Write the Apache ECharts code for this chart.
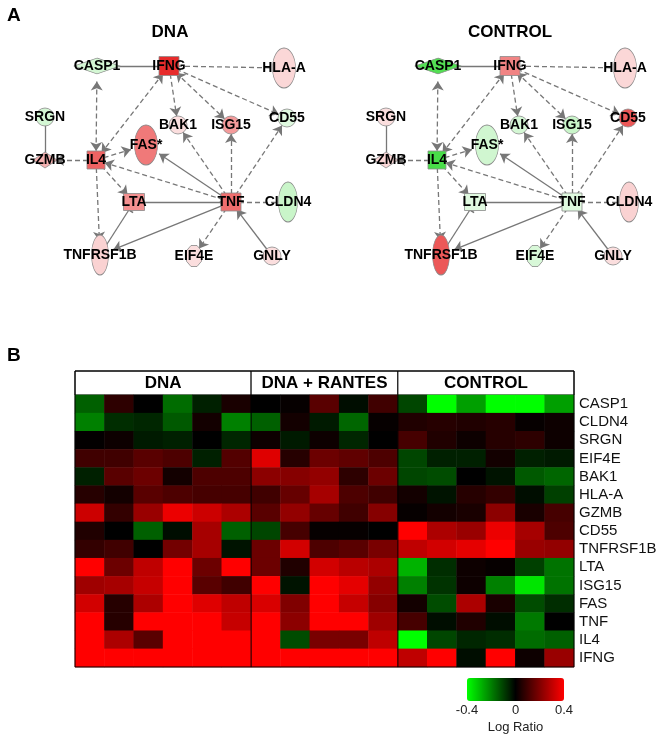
<!DOCTYPE html>
<html>
<head>
<meta charset="utf-8">
<script src="https://cdn.jsdelivr.net/npm/echarts@6/dist/echarts.min.js"></script>
<style>
html, body { margin: 0; padding: 0; background: #fff; }
#main { width: 661px; height: 735px; }
</style>
</head>
<body>
<div id="main"></div>
<script>
// ---- panel B data: log ratio per gene (rows) and sample (columns)
var genes = ['CASP1', 'CLDN4', 'SRGN', 'EIF4E', 'BAK1', 'HLA-A', 'GZMB', 'CD55',
    'TNFRSF1B', 'LTA', 'ISG15', 'FAS', 'TNF', 'IL4', 'IFNG'];
var groups = ['DNA', 'DNA + RANTES', 'CONTROL'];

var dnaVals = [
    [-0.15, 0.07, 0.0, -0.17, -0.05, 0.04],
    [-0.2, -0.07, -0.06, -0.14, 0.03, -0.2],
    [0.005, 0.02, -0.04, -0.05, 0.0, -0.06],
    [0.1, 0.1, 0.14, 0.12, -0.05, 0.13],
    [-0.05, 0.14, 0.17, 0.03, 0.12, 0.12],
    [0.06, 0.03, 0.14, 0.12, 0.11, 0.11],
    [0.32, 0.08, 0.24, 0.37, 0.32, 0.27],
    [0.05, 0.0, -0.15, -0.02, 0.26, -0.15],
    [0.08, 0.1, 0.0, 0.18, 0.26, -0.03],
    [0.4, 0.17, 0.3, 0.4, 0.17, 0.4],
    [0.25, 0.26, 0.31, 0.4, 0.14, 0.1],
    [0.33, 0.06, 0.27, 0.4, 0.35, 0.3],
    [0.4, 0.06, 0.4, 0.4, 0.4, 0.31],
    [0.4, 0.27, 0.14, 0.4, 0.4, 0.4],
    [0.4, 0.4, 0.4, 0.4, 0.4, 0.4]
];
var rantesVals = [
    [0.0, 0.01, 0.14, -0.02, 0.1],
    [-0.15, 0.03, -0.04, -0.16, 0.01],
    [0.02, -0.04, 0.02, -0.06, 0.0],
    [0.35, 0.06, 0.17, 0.15, 0.12],
    [0.22, 0.21, 0.23, 0.07, 0.17],
    [0.1, 0.16, 0.26, 0.12, 0.1],
    [0.14, 0.23, 0.16, 0.1, 0.21],
    [-0.11, 0.11, 0.01, 0.01, 0.0],
    [0.17, 0.33, 0.12, 0.14, 0.19],
    [0.17, 0.05, 0.33, 0.29, 0.27],
    [0.4, -0.03, 0.4, 0.36, 0.23],
    [0.34, 0.2, 0.4, 0.31, 0.21],
    [0.4, 0.22, 0.4, 0.4, 0.25],
    [0.4, -0.12, 0.19, 0.19, 0.3],
    [0.4, 0.4, 0.4, 0.4, 0.4]
];
var ctrlVals = [
    [-0.11, -0.4, -0.25, -0.4, -0.4, -0.25],
    [0.05, 0.06, 0.05, 0.06, 0.01, 0.02],
    [0.11, 0.05, 0.02, 0.06, 0.07, 0.02],
    [-0.11, -0.05, -0.05, 0.03, -0.05, -0.04],
    [-0.11, -0.12, 0.0, -0.03, -0.14, -0.16],
    [0.03, -0.03, 0.06, 0.08, -0.02, -0.1],
    [0.01, 0.03, 0.04, 0.22, 0.04, 0.11],
    [0.4, 0.27, 0.24, 0.37, 0.26, 0.12],
    [0.3, 0.33, 0.36, 0.4, 0.24, 0.23],
    [-0.28, -0.07, 0.02, 0.01, -0.1, -0.18],
    [-0.2, -0.08, 0.02, -0.2, -0.36, -0.18],
    [0.03, -0.12, 0.27, 0.04, -0.12, -0.07],
    [0.11, -0.02, 0.05, -0.02, -0.19, 0.0],
    [-0.4, -0.11, -0.06, -0.07, -0.17, -0.15],
    [0.3, 0.4, -0.02, 0.4, 0.02, 0.24]
];
var legendTicks = [-0.4, 0, 0.4];

// ---- panel A data: network nodes, expression level (-1 green .. 1 red), links
var netNodes = ['CASP1', 'IFNG', 'HLA-A', 'SRGN', 'BAK1', 'ISG15', 'CD55', 'FAS*',
    'GZMB', 'IL4', 'LTA', 'TNF', 'CLDN4', 'TNFRSF1B', 'EIF4E', 'GNLY'];
var dnaLevel = [-0.2, 0.95, 0.18, -0.2, 0.15, 0.45, -0.15, 0.6,
    0.35, 0.7, 0.5, 0.65, -0.25, 0.2, 0.15, 0.15];
var ctrlLevel = [-0.8, 0.55, 0.18, 0.15, -0.2, -0.25, 0.75, -0.22,
    0.18, -0.85, -0.15, -0.15, 0.2, 0.75, -0.18, 0.15];
// [from, to, kind, fromSymbol, toSymbol]
var netLinks = [
    ['CASP1', 'IFNG', 'solid', 'none', 'none'],
    ['IFNG', 'HLA-A', 'dashed', 'none', 'none'],
    ['IFNG', 'BAK1', 'dashed', 'none', 'arrow'],
    ['IFNG', 'ISG15', 'dashed', 'arrow', 'arrow'],
    ['IFNG', 'CD55', 'dashed', 'none', 'arrow'],
    ['IFNG', 'IL4', 'dashed', 'arrow', 'arrow'],
    ['CASP1', 'IL4', 'dashed', 'arrow', 'arrow'],
    ['SRGN', 'GZMB', 'solid', 'none', 'none'],
    ['IL4', 'GZMB', 'dashed', 'none', 'arrow'],
    ['IL4', 'FAS*', 'dashed', 'none', 'arrow'],
    ['IL4', 'LTA', 'dashed', 'none', 'arrow'],
    ['IL4', 'TNFRSF1B', 'dashed', 'none', 'arrow'],
    ['TNF', 'IL4', 'dashed', 'none', 'arrow'],
    ['TNF', 'FAS*', 'solid', 'none', 'arrow'],
    ['TNF', 'BAK1', 'dashed', 'none', 'arrow'],
    ['TNF', 'ISG15', 'dashed', 'none', 'arrow'],
    ['TNF', 'CD55', 'dashed', 'none', 'arrow'],
    ['TNF', 'LTA', 'solid', 'none', 'none'],
    ['TNF', 'CLDN4', 'dashed', 'none', 'none'],
    ['TNF', 'EIF4E', 'dashed', 'none', 'arrow'],
    ['GNLY', 'TNF', 'solid', 'none', 'arrow'],
    ['TNF', 'TNFRSF1B', 'solid', 'tee', 'arrow'],
    ['TNFRSF1B', 'LTA', 'solid', 'none', 'tee']
];

// network layout (panel units) and node shapes
var netLayout = {
    'CASP1': [97, 66], 'IFNG': [169, 66], 'HLA-A': [284, 68], 'SRGN': [45, 117],
    'BAK1': [178, 125], 'ISG15': [231, 125], 'CD55': [287, 118], 'FAS*': [146, 145],
    'GZMB': [45, 160], 'IL4': [96, 160], 'LTA': [134, 202], 'TNF': [231, 202],
    'CLDN4': [288, 202], 'TNFRSF1B': [100, 255], 'EIF4E': [194, 256], 'GNLY': [272, 256]
};
var ELLIPSE = 'path://M0,50A50,50,0,1,1,100,50A50,50,0,1,1,0,50Z';
var OCTAGON = 'path://M30,0L70,0L100,25L100,75L70,100L30,100L0,75L0,25Z';
var TEE = 'path://M0,0L0,0M0,10L0,10M0,4.2L10,4.2L10,5.8L0,5.8Z';
var netShape = {
    'CASP1': ['diamond', [46, 16]], 'IFNG': ['rect', [20, 19]], 'HLA-A': [ELLIPSE, [23, 40]],
    'SRGN': ['circle', 18], 'BAK1': ['circle', 18], 'ISG15': ['circle', 18], 'CD55': ['circle', 18],
    'FAS*': [ELLIPSE, [23, 40]], 'GZMB': ['diamond', [24, 16]], 'IL4': ['rect', [18, 18]],
    'LTA': ['rect', [21, 17]], 'TNF': ['rect', [20, 18]], 'CLDN4': [ELLIPSE, [19, 40]],
    'TNFRSF1B': [ELLIPSE, [17, 40]], 'EIF4E': [OCTAGON, [15, 21]], 'GNLY': ['circle', 18]
};

function levelColor(v) {
    var base = v >= 0 ? [230, 32, 32] : [40, 215, 40];
    var a = Math.min(1, Math.abs(v));
    var c = base.map(function (b) { return Math.round(255 + (b - 255) * a); });
    return 'rgb(' + c.join(',') + ')';
}

function netSeries(levels, idx) {
    var nodes = netNodes.map(function (name, i) {
        var sh = netShape[name];
        return {
            name: name,
            value: netLayout[name],
            symbol: sh[0],
            symbolSize: sh[1],
            itemStyle: { color: levelColor(levels[i]), borderColor: '#8a8a8a', borderWidth: 0.8 }
        };
    });
    var links = netLinks.map(function (l) {
        return {
            source: l[0],
            target: l[1],
            symbol: [l[3] === 'tee' ? TEE : l[3], l[4] === 'tee' ? TEE : l[4]],
            symbolSize: [l[3] === 'tee' ? 10 : 9, l[4] === 'tee' ? 10 : 9],
            lineStyle: { type: l[2] === 'dashed' ? [5, 3] : 'solid' }
        };
    });
    return {
        type: 'graph',
        layout: 'none',
        coordinateSystem: 'cartesian2d',
        xAxisIndex: idx,
        yAxisIndex: idx,
        data: nodes,
        links: links,
        label: {
            show: true,
            position: 'inside',
            color: '#000',
            fontWeight: 'bold',
            fontSize: 14,
            fontFamily: 'Arial, Liberation Sans, sans-serif'
        },
        lineStyle: { color: '#777', width: 1.3, opacity: 1 },
        emphasis: { disabled: true },
        silent: true
    };
}

// heatmap cells
var heatData = [];
var blocks = [dnaVals, rantesVals, ctrlVals];
var col0 = 0;
var groupStart = [];
blocks.forEach(function (block) {
    groupStart.push(col0);
    block.forEach(function (row, r) {
        row.forEach(function (v, c) { heatData.push([col0 + c, r, v]); });
    });
    col0 += block[0].length;
});
var nCols = col0;
var cols = [];
for (var i = 0; i < nCols; i++) cols.push(i);

// heatmap geometry
var hmLeft = 75, hmTop = 395, hmWidth = 499, hmHeight = 272, headH = 24;
var colW = hmWidth / nCols;

var graphics = [];
var FONT = 'Arial, Liberation Sans, sans-serif';
groups.forEach(function (g, k) {
    var x0 = hmLeft + groupStart[k] * colW;
    var x1 = hmLeft + (k + 1 < groups.length ? groupStart[k + 1] : nCols) * colW;
    graphics.push({
        type: 'rect', shape: { x: x0, y: hmTop - headH, width: x1 - x0, height: headH },
        style: { fill: '#fff', stroke: '#000', lineWidth: 1 }
    });
    graphics.push({
        type: 'text', x: (x0 + x1) / 2, y: hmTop - headH / 2,
        style: { text: g, fill: '#000', font: 'bold 17px ' + FONT, align: 'center', verticalAlign: 'middle' }
    });
    if (k > 0) {
        graphics.push({
            type: 'line', z: 10, shape: { x1: x0, y1: hmTop, x2: x0, y2: hmTop + hmHeight },
            style: { stroke: '#000', lineWidth: 1 }
        });
    }
});
graphics.push({
    type: 'rect', z: 10, shape: { x: hmLeft, y: hmTop - headH, width: hmWidth, height: hmHeight + headH },
    style: { fill: 'none', stroke: '#000', lineWidth: 1 }
});
graphics.push({ type: 'text', x: 7, y: 6, style: { text: 'A', fill: '#000', font: 'bold 19px ' + FONT } });
graphics.push({ type: 'text', x: 7, y: 346, style: { text: 'B', fill: '#000', font: 'bold 19px ' + FONT } });
graphics.push({ type: 'text', x: 170, y: 32, style: { text: 'DNA', fill: '#000', font: 'bold 17px ' + FONT, align: 'center', verticalAlign: 'middle' } });
graphics.push({ type: 'text', x: 510, y: 32, style: { text: 'CONTROL', fill: '#000', font: 'bold 17px ' + FONT, align: 'center', verticalAlign: 'middle' } });

var hiddenValueAxis = function (gi, min, max, inverse) {
    return { type: 'value', gridIndex: gi, min: min, max: max, inverse: !!inverse, show: false };
};

var myChart = echarts.init(document.getElementById('main'), null, { renderer: 'canvas' });

var option = {
    animation: false,
    backgroundColor: '#fff',
    textStyle: { fontFamily: FONT },
    grid: [
        { left: 0, top: 0, width: 320, height: 300 },
        { left: 341, top: 0, width: 320, height: 300 },
        { left: hmLeft, top: hmTop, width: hmWidth, height: hmHeight },
        { left: 467, top: 701, width: 97, height: 1 }
    ],
    xAxis: [
        hiddenValueAxis(0, 0, 320),
        hiddenValueAxis(1, 0, 320),
        { type: 'category', gridIndex: 2, data: cols, show: false },
        {
            type: 'value', gridIndex: 3, min: legendTicks[0], max: legendTicks[2], interval: legendTicks[2],
            axisLine: { show: false }, axisTick: { show: false }, splitLine: { show: false },
            axisLabel: { fontSize: 13, color: '#222', margin: 3, formatter: function (v) { return String(v); } },
            name: 'Log Ratio', nameLocation: 'middle', nameGap: 20,
            nameTextStyle: { fontSize: 13, color: '#222' }
        }
    ],
    yAxis: [
        hiddenValueAxis(0, 0, 300, true),
        hiddenValueAxis(1, 0, 300, true),
        {
            type: 'category', gridIndex: 2, data: genes, inverse: true, position: 'right',
            axisLine: { show: false }, axisTick: { show: false }, splitLine: { show: false },
            axisLabel: { fontSize: 15, color: '#111', margin: 5, interval: 0 }
        },
        { type: 'value', gridIndex: 3, show: false }
    ],
    visualMap: {
        type: 'continuous',
        seriesIndex: 2,
        min: legendTicks[0],
        max: legendTicks[2],
        orient: 'horizontal',
        left: 467,
        top: 678,
        itemWidth: 23,
        itemHeight: 97,
        padding: 0,
        calculable: false,
        hoverLink: false,
        inRange: { color: ['#00ff00', '#000000', '#ff0000'] }
    },
    series: [
        netSeries(dnaLevel, 0),
        netSeries(ctrlLevel, 1),
        {
            type: 'heatmap',
            xAxisIndex: 2,
            yAxisIndex: 2,
            data: heatData,
            itemStyle: { borderWidth: 0 },
            emphasis: { disabled: true },
            silent: true
        }
    ],
    graphic: graphics
};

myChart.setOption(option);
</script>
</body>
</html>
